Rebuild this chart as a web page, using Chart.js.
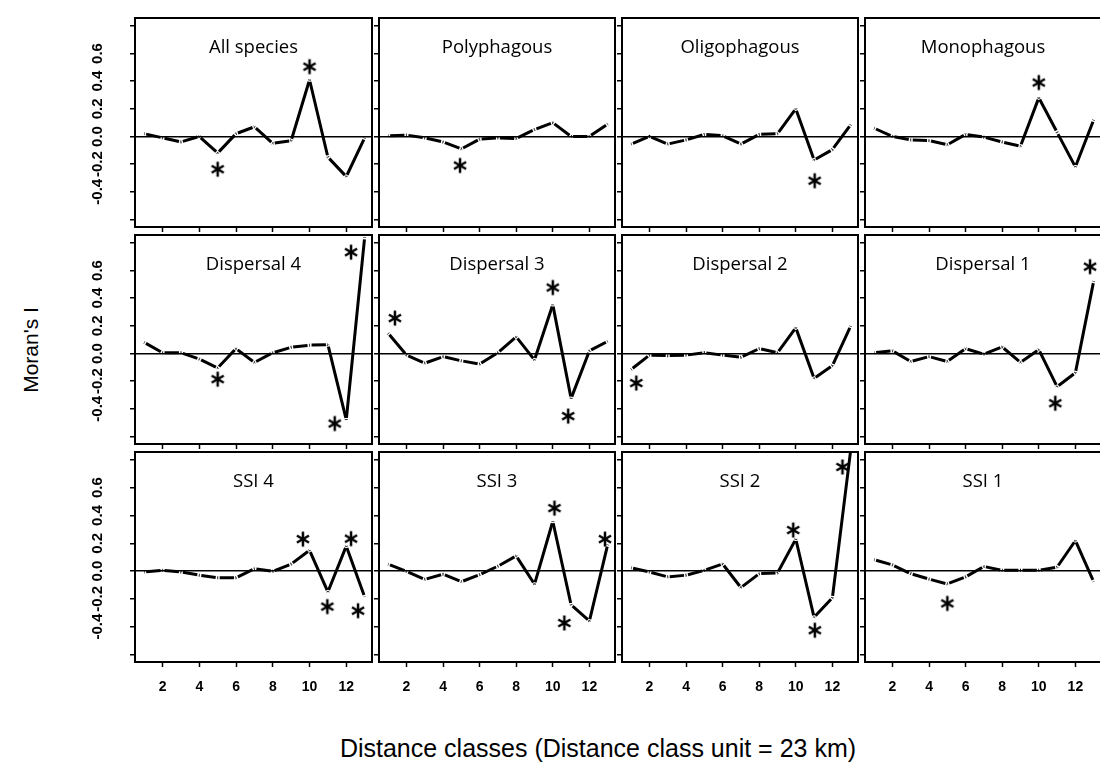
<!DOCTYPE html>
<html>
<head>
<meta charset="utf-8">
<script src="https://cdn.jsdelivr.net/npm/chart.js@4.4.1/dist/chart.umd.min.js"></script>
<style>
  body { margin: 0; background: #fff; width: 1100px; height: 764px; overflow: hidden; position: relative;
         font-family: "Liberation Sans", Arial, sans-serif; color: #000; }
  canvas { position: absolute; }
  #ylab { position: absolute; left: -69px; top: 338px; width: 200px; height: 24px; line-height: 24px;
          text-align: center; font-size: 21px; transform: rotate(-90deg); }
  #xlab { position: absolute; left: 298px; top: 734px; width: 600px; line-height: 28px;
          text-align: center; font-size: 25px; }
</style>
</head>
<body>
<div id="ylab">Moran's I</div>
<div id="xlab">Distance classes (Distance class unit = 23 km)</div>
<script>
// distance classes on the x axis
const distanceClasses = [1, 2, 3, 4, 5, 6, 7, 8, 9, 10, 11, 12, 13];

// Moran's I per distance class, one array per panel
const allSpecies   = [0.02, -0.01, -0.04, 0.0, -0.12, 0.02, 0.07, -0.05, -0.03, 0.41, -0.15, -0.29, -0.01];
const polyphagous  = [0.005, 0.01, -0.01, -0.04, -0.09, -0.02, -0.01, -0.015, 0.05, 0.10, 0.0, 0.0, 0.09];
const oligophagous = [-0.055, 0.0, -0.055, -0.025, 0.015, 0.005, -0.055, 0.015, 0.02, 0.20, -0.17, -0.095, 0.085];
const monophagous  = [0.06, 0.0, -0.025, -0.03, -0.06, 0.015, -0.005, -0.04, -0.07, 0.28, 0.03, -0.22, 0.12];
const dispersal4   = [0.08, 0.005, 0.005, -0.04, -0.105, 0.035, -0.065, 0.005, 0.045, 0.06, 0.063, -0.48, 0.84];
const dispersal3   = [0.146, -0.012, -0.07, -0.023, -0.053, -0.077, 0.005, 0.12, -0.047, 0.353, -0.326, 0.019, 0.088];
const dispersal2   = [-0.116, -0.012, -0.016, -0.012, 0.005, -0.012, -0.028, 0.035, 0.005, 0.186, -0.18, -0.088, 0.198];
const dispersal1   = [0.005, 0.019, -0.058, -0.023, -0.058, 0.035, -0.005, 0.047, -0.065, 0.028, -0.24, -0.14, 0.523];
const ssi4         = [-0.007, 0.005, -0.007, -0.03, -0.049, -0.049, 0.016, -0.002, 0.05, 0.149, -0.15, 0.18, -0.186];
const ssi3         = [0.05, -0.002, -0.06, -0.023, -0.077, -0.026, 0.035, 0.109, -0.095, 0.358, -0.244, -0.36, 0.19];
const ssi2         = [0.023, -0.007, -0.042, -0.03, 0.005, 0.051, -0.119, -0.019, -0.014, 0.23, -0.333, -0.193, 0.87];
const ssi1         = [0.081, 0.044, -0.019, -0.058, -0.093, -0.042, 0.033, 0.005, 0.005, 0.005, 0.028, 0.219, -0.077];

// significance asterisks, [distance class, Moran's I] where they are printed
const starsAllSpecies   = [[5, -0.237], [10, 0.505]];
const starsPolyphagous  = [[4.93, -0.21]];
const starsOligophagous = [[11.03, -0.32]];
const starsMonophagous  = [[10, 0.39]];
const starsDispersal4   = [[5, -0.186], [11.37, -0.507], [12.26, 0.733]];
const starsDispersal3   = [[1.37, 0.256], [10, 0.477], [10.84, -0.453]];
const starsDispersal2   = [[1.28, -0.214]];
const starsDispersal1   = [[10.9, -0.36], [12.8, 0.628]];
const starsSsi4         = [[9.64, 0.23], [10.97, -0.256], [12.26, 0.233], [12.64, -0.286]];
const starsSsi3         = [[10.09, 0.453], [10.63, -0.374], [12.85, 0.23]];
const starsSsi2         = [[9.86, 0.295], [11.04, -0.426], [12.55, 0.749]];
const starsSsi1         = [[5, -0.233]];

const panelNames = ['All species', 'Polyphagous', 'Oligophagous', 'Monophagous',
                    'Dispersal 4', 'Dispersal 3', 'Dispersal 2', 'Dispersal 1',
                    'SSI 4', 'SSI 3', 'SSI 2', 'SSI 1'];
const panelValues = [allSpecies, polyphagous, oligophagous, monophagous,
                     dispersal4, dispersal3, dispersal2, dispersal1,
                     ssi4, ssi3, ssi2, ssi1];
const panelStars = [starsAllSpecies, starsPolyphagous, starsOligophagous, starsMonophagous,
                    starsDispersal4, starsDispersal3, starsDispersal2, starsDispersal1,
                    starsSsi4, starsSsi3, starsSsi2, starsSsi1];

// layout of the grid of panels
const FRAME_LEFT = [135, 378, 621, 864];
const FRAME_TOP = [11, 228, 445];
const W = 243, H = 217;

// asterisk marker
const star = document.createElement('canvas');
star.width = 18; star.height = 18;
(function () {
  const c = star.getContext('2d');
  c.strokeStyle = '#000';
  c.lineWidth = 2.5;
  c.translate(9, 9);
  [90, 30, -30].forEach(a => {
    const r = a * Math.PI / 180;
    const len = a === 90 ? 7.5 : 7;
    c.beginPath();
    c.moveTo(-Math.cos(r) * len, -Math.sin(r) * len);
    c.lineTo(Math.cos(r) * len, Math.sin(r) * len);
    c.stroke();
  });
})();

// box and panel name
const framePlugin = {
  id: 'frame',
  afterDraw(chart, args, opts) {
    const { ctx, chartArea: a } = chart;
    ctx.save();
    ctx.fillStyle = '#000';
    ctx.font = '18.5px "Open Sans"';
    ctx.textAlign = 'center';
    ctx.textBaseline = 'middle';
    ctx.fillText(opts.text, (a.left + a.right) / 2, a.top + 30);
    ctx.strokeStyle = '#000';
    ctx.lineWidth = 2;
    ctx.strokeRect(a.left, a.top, a.right - a.left, a.bottom - a.top);
    ctx.restore();
  }
};

// dash-dot look: each segment is a dash with a dot at the vertices
function segLen(ctx) {
  return Math.hypot(ctx.p1.x - ctx.p0.x, ctx.p1.y - ctx.p0.y);
}

panelNames.forEach((name, i) => {
  const row = Math.floor(i / 4), col = i % 4;
  const padL = col === 0 ? FRAME_LEFT[0] : 8;
  const padB = row === 2 ? 60 : 8;
  const padT = 2, padR = 3;

  const cv = document.createElement('canvas');
  cv.width = W + padL + padR;
  cv.height = H + padT + padB;
  cv.style.left = (FRAME_LEFT[col] - padL) + 'px';
  cv.style.top = (FRAME_TOP[row] - padT) + 'px';
  document.body.appendChild(cv);

  new Chart(cv, {
    type: 'line',
    data: {
      datasets: [
        {
          data: distanceClasses.map((d, k) => ({ x: d, y: panelValues[i][k] })),
          borderColor: '#000',
          borderWidth: 3,
          pointRadius: 0,
          tension: 0,
          segment: {
            borderDash: ctx => { const L = segLen(ctx); return [L - 4, 1.5, 1, 1.5]; },
            borderDashOffset: ctx => segLen(ctx) - 2
          }
        },
        {
          data: panelStars[i].map(s => ({ x: s[0], y: s[1] })),
          showLine: false,
          pointStyle: star,
          pointRadius: 8,
          clip: false
        }
      ]
    },
    options: {
      responsive: false,
      animation: false,
      devicePixelRatio: 1,
      layout: { padding: { left: 0, right: padR, top: padT, bottom: 0 } },
      plugins: { legend: { display: false }, tooltip: { enabled: false }, frame: { text: name } },
      scales: {
        x: {
          type: 'linear',
          min: 0.5,
          max: 13.4,
          afterFit: s => { s.height = padB; s.paddingLeft = 0; s.paddingRight = 0; },
          border: { display: false },
          grid: { drawOnChartArea: false, tickLength: 5, tickColor: '#000', tickWidth: 1.5 },
          ticks: {
            display: row === 2,
            stepSize: 2,
            includeBounds: false,
            autoSkip: false,
            maxRotation: 0,
            padding: 12,
            color: '#000',
            font: { family: '"Liberation Sans"', size: 14, weight: 'bold' }
          }
        },
        y: {
          min: -0.655,
          max: 0.857,
          afterFit: s => { s.width = padL; s.paddingTop = 0; s.paddingBottom = 0; },
          border: { display: false },
          grid: {
            color: c => (c.tick && Math.abs(c.tick.value) < 1e-9) ? '#000' : 'rgba(0,0,0,0)',
            lineWidth: 1.5,
            tickLength: 5,
            tickColor: '#000',
            tickWidth: 1.5
          },
          ticks: {
            display: col === 0,
            stepSize: 0.2,
            includeBounds: false,
            autoSkip: false,
            minRotation: 90,
            maxRotation: 90,
            crossAlign: 'center',
            padding: 19,
            color: '#000',
            font: { family: '"Liberation Sans"', size: 15, weight: 'bold' },
            callback: v => {
              const r = Math.round(v * 10) / 10;
              return (r < -0.45 || r > 0.65) ? '' : r.toFixed(1);
            }
          }
        }
      }
    },
    plugins: [framePlugin]
  });
});
</script>
</body>
</html>
